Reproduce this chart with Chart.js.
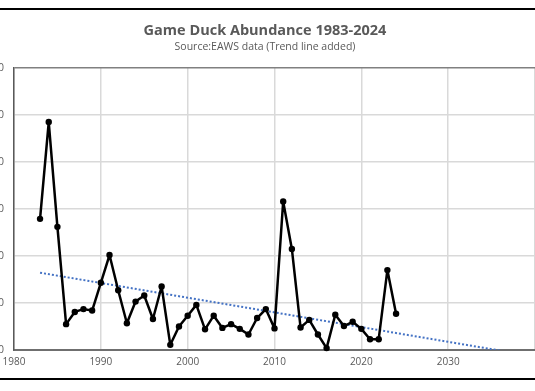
<!DOCTYPE html>
<html>
<head>
<meta charset="utf-8">
<script src="https://cdn.jsdelivr.net/npm/chart.js@4.4.0/dist/chart.umd.min.js"></script>
<style>
  html, body { margin: 0; padding: 0; background: #fff; overflow: hidden; width: 535px; height: 391px; }
  #wrap { position: absolute; left: -11px; top: 0; width: 552px; height: 391px; }
  #frame { position: absolute; left: -5px; top: 8px; width: 545px; height: 372px; box-sizing: border-box;
           border-top: 2px solid #000; border-bottom: 2px solid #000; pointer-events: none; }
</style>
</head>
<body>
<div id="wrap"><canvas id="myChart" width="552" height="391"></canvas></div>
<div id="frame"></div>
<script>
var years = [1983, 1984, 1985, 1986, 1987, 1988, 1989, 1990, 1991, 1992, 1993, 1994, 1995, 1996,
             1997, 1998, 1999, 2000, 2001, 2002, 2003, 2004, 2005, 2006, 2007, 2008, 2009, 2010,
             2011, 2012, 2013, 2014, 2015, 2016, 2017, 2018, 2019, 2020, 2021, 2022, 2023, 2024];
var abundance = [279000, 485000, 262000, 55000, 81000, 87000, 84000, 143000, 202000, 127000, 57000, 103000, 116000, 66000,
                 135000, 11000, 50000, 73000, 96000, 44000, 73000, 47000, 55000, 45000, 33000, 68000, 87000, 46000,
                 316000, 215000, 48000, 64000, 33000, 4000, 75000, 51000, 60000, 45000, 23000, 23000, 170000, 77000];
var xTicks = [1980, 1990, 2000, 2010, 2020, 2030];
var yMax = 600000;
var forecastYears = 13;

// least squares trend line, like the excel one
var n = years.length, sx = 0, sy = 0, sxy = 0, sxx = 0;
for (var i = 0; i < n; i++) {
    sx += years[i]; sy += abundance[i];
    sxy += years[i] * abundance[i]; sxx += years[i] * years[i];
}
var slope = (n * sxy - sx * sy) / (n * sxx - sx * sx);
var icpt = (sy - slope * sx) / n;
var trendEnd = years[n - 1] + forecastYears;
var trend = [
    {x: years[0], y: icpt + slope * years[0]},
    {x: trendEnd, y: icpt + slope * trendEnd}
];

var points = years.map(function (y, i) { return {x: y, y: abundance[i]}; });

var ctx = document.getElementById('myChart').getContext('2d');
var myChart = new Chart(ctx, {
    type: 'scatter',
    data: {
        datasets: [{
            data: trend,
            showLine: true,
            borderColor: '#4472C4',
            borderWidth: 2,
            borderDash: [2, 2],
            pointRadius: 0,
            order: 2
        }, {
            data: points,
            showLine: true,
            borderColor: '#000',
            backgroundColor: '#000',
            borderWidth: 2.5,
            borderJoinStyle: 'round',
            borderCapStyle: 'round',
            pointRadius: 3.2,
            pointBorderWidth: 0,
            clip: false,
            order: 1
        }]
    },
    options: {
        responsive: false,
        animation: false,
        devicePixelRatio: 1,
        layout: {padding: 0},
        plugins: {
            legend: {display: false},
            tooltip: {enabled: false},
            title: {
                display: true,
                text: 'Game Duck Abundance 1983-2024',
                color: '#595959',
                font: {family: 'Open Sans', size: 14.5, weight: 'bold'},
                padding: {top: 22, bottom: 0}
            },
            subtitle: {
                display: true,
                text: 'Source:EAWS data (Trend line added)',
                color: '#595959',
                font: {family: 'Open Sans', size: 10.5},
                padding: {top: 1, bottom: 15}
            }
        },
        scales: {
            x: {
                type: 'linear',
                min: 1980,
                max: 2040,
                afterBuildTicks: function (scale) {
                    scale.ticks = xTicks.concat([2040]).map(function (v) { return {value: v}; });
                },
                afterFit: function (scale) { scale.height = 41; },
                ticks: {
                    color: '#595959',
                    font: {family: 'Open Sans', size: 10},
                    padding: 6,
                    maxRotation: 0,
                    callback: function (v) { return xTicks.indexOf(v) >= 0 ? String(v) : ''; }
                },
                grid: {color: '#d9d9d9', lineWidth: 1.5, drawTicks: false},
                border: {color: '#6f6f6f', width: 2}
            },
            y: {
                min: 0,
                max: yMax,
                afterFit: function (scale) { scale.width = 25; },
                ticks: {
                    stepSize: 100000,
                    color: '#595959',
                    font: {family: 'Open Sans', size: 10},
                    padding: 10,
                    callback: function (v) { return String(v); }
                },
                grid: {
                    drawTicks: false,
                    color: function (c) { return c.tick && c.tick.value === yMax ? '#808080' : '#d9d9d9'; },
                    lineWidth: 1.5
                },
                border: {color: '#595959', width: 1.5}
            }
        }
    }
});
</script>
</body>
</html>
